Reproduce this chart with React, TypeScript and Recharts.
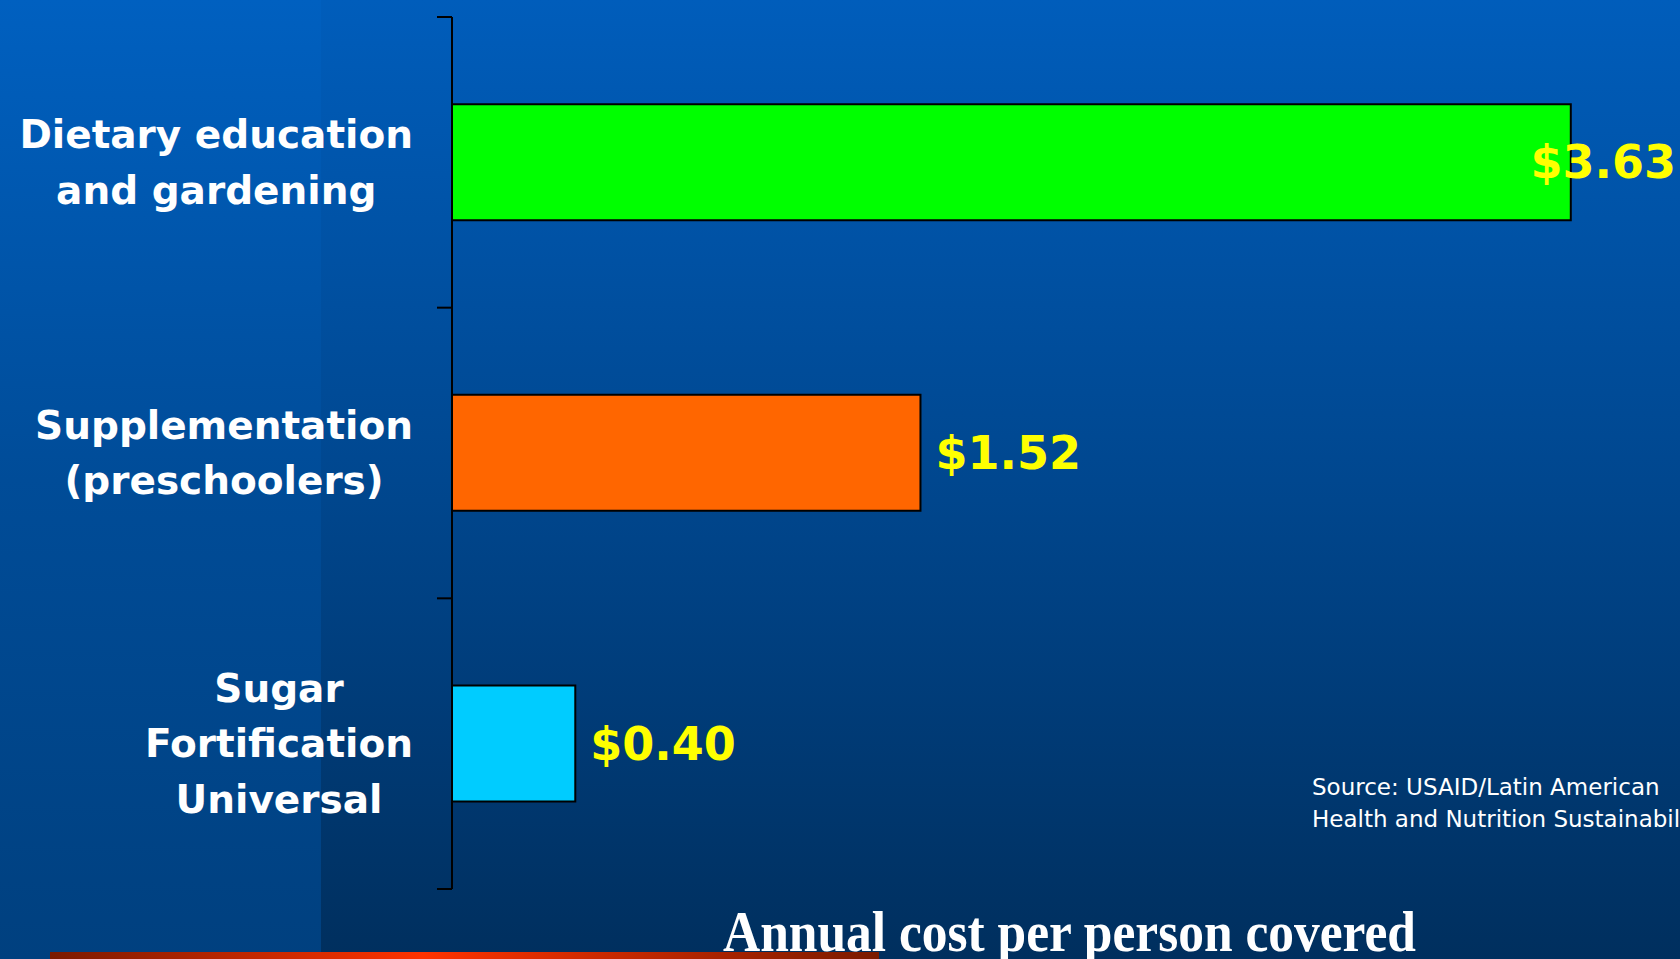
import React from 'react';
import { BarChart, Bar, XAxis, YAxis, Cell, LabelList } from 'recharts';

const categories = ['Dietary education\nand gardening', 'Supplementation\n(preschoolers)', 'Sugar\nFortification\nUniversal'];
const costs = [3.63, 1.52, 0.4];
const barColors = ['#00FF00', '#FF6600', '#00CCFF'];
const sourceLines = ['Source: USAID/Latin American', 'Health and Nutrition Sustainability'];
const axisTitle = 'Annual cost per person covered';

const data = categories.map((name, i) => ({ name, cost: costs[i] }));

const W = 1680;
const H = 959;
const PLOT_LEFT = 452;
const PLOT_TOP = 17;
const PLOT_BOTTOM = 889;
const BAND = (PLOT_BOTTOM - PLOT_TOP) / categories.length;
const CAT_FONT = 'bold 39px "DejaVu Sans"';
const VAL_FONT = 'bold 46px "DejaVu Sans"';

let ctx: CanvasRenderingContext2D | null = null;
function textWidth(s: string, font: string) {
  if (!ctx) ctx = document.createElement('canvas').getContext('2d');
  if (!ctx) return s.length * 20;
  ctx.font = font;
  return ctx.measureText(s).width;
}

function CategoryTick(props: any) {
  const { y, payload, index } = props;
  const lines = String(payload.value).split('\n');
  const maxW = Math.max(...lines.map((l) => textWidth(l, CAT_FONT)));
  const cx = 413 - maxW / 2;
  const lh = 55.5;
  const top = y - BAND / 2;
  return (
    <g>
      <line x1={PLOT_LEFT - 15} x2={PLOT_LEFT} y1={top} y2={top} stroke="#000" strokeWidth={2} />
      {index === categories.length - 1 && (
        <line x1={PLOT_LEFT - 15} x2={PLOT_LEFT} y1={y + BAND / 2} y2={y + BAND / 2} stroke="#000" strokeWidth={2} />
      )}
      {lines.map((l, i) => (
        <text
          key={i}
          x={cx}
          y={y + (i - (lines.length - 1) / 2) * lh + 13.5}
          textAnchor="middle"
          fill="#fff"
          fontFamily="DejaVu Sans"
          fontWeight="bold"
          fontSize={39}
        >
          {l}
        </text>
      ))}
    </g>
  );
}

function ValueLabel(props: any) {
  const { x, y, width, height, value } = props;
  const txt = `$${Number(value).toFixed(2)}`;
  const w = textWidth(txt, VAL_FONT);
  const end = Number(x) + Number(width);
  let tx = end + 15;
  if (tx + w > W - 4) tx = W - 4 - w;
  return (
    <text
      x={tx}
      y={Number(y) + Number(height) / 2 + 16}
      fill="#FFFF00"
      fontFamily="DejaVu Sans"
      fontWeight="bold"
      fontSize={46}
    >
      {txt}
    </text>
  );
}

export default function App() {
  return (
    <div
      style={{
        position: 'absolute',
        left: 0,
        top: 0,
        width: W,
        height: H,
        overflow: 'hidden',
        background: 'linear-gradient(to bottom, #005DBB 0%, #00478F 50%, #002F5E 100%)',
      }}
    >
      <div
        style={{
          position: 'absolute',
          left: 0,
          top: 0,
          width: 321,
          height: H,
          background: 'linear-gradient(to bottom, #0060C0 0%, #004C98 50%, #00407F 100%)',
        }}
      />
      <div
        style={{
          position: 'absolute',
          left: 50,
          top: 952,
          width: 829,
          height: 7,
          background: 'linear-gradient(to right, #7a1a00 0%, #ff3300 45%, #7a1a00 100%)',
        }}
      />
      <div style={{ position: 'absolute', left: 0, top: 0 }}>
        <BarChart
          width={W}
          height={H}
          data={data}
          layout="vertical"
          barCategoryGap="30%"
          margin={{ top: PLOT_TOP, bottom: H - PLOT_BOTTOM, left: 0, right: 26 }}
        >
          <XAxis type="number" domain={[0, 3.9]} hide />
          <YAxis
            type="category"
            dataKey="name"
            width={PLOT_LEFT}
            axisLine={{ stroke: '#000', strokeWidth: 2 }}
            tickLine={false}
            tick={<CategoryTick />}
            interval={0}
          />
          <Bar dataKey="cost" stroke="#000" strokeWidth={2} isAnimationActive={false}>
            {data.map((d, i) => (
              <Cell key={d.name} fill={barColors[i]} />
            ))}
            <LabelList dataKey="cost" content={<ValueLabel />} />
          </Bar>
        </BarChart>
      </div>
      <svg width={W} height={H} style={{ position: 'absolute', left: 0, top: 0, pointerEvents: 'none' }}>
        {sourceLines.map((l, i) => (
          <text key={i} x={1312} y={795 + i * 32} fill="#fff" fontFamily="DejaVu Sans" fontSize={23}>
            {l}
          </text>
        ))}
        <text
          x={723}
          y={951}
          fill="#fff"
          fontFamily="Liberation Serif"
          fontWeight="bold"
          fontSize={57}
          textLength={693}
          lengthAdjust="spacingAndGlyphs"
        >
          {axisTitle}
        </text>
      </svg>
    </div>
  );
}
